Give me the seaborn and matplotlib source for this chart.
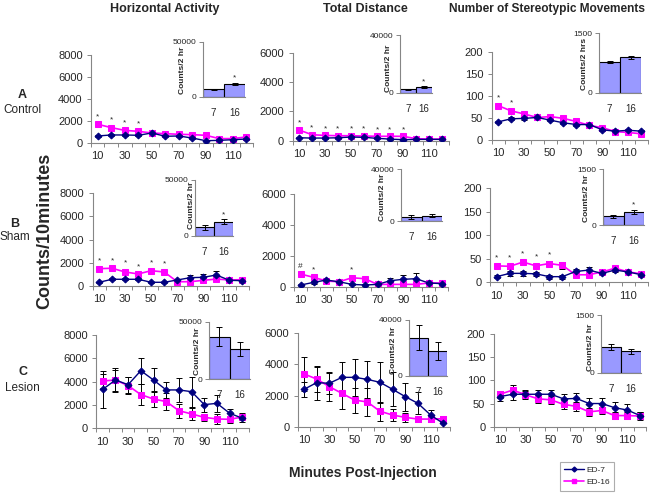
import numpy as np
import pandas as pd
import seaborn as sns
import matplotlib.pyplot as plt
from matplotlib.lines import Line2D

sns.set_theme(style="white")
plt.rcParams['font.family'] = ['Liberation Sans', 'DejaVu Sans']

W, H = 651, 493

minutes = [10, 20, 30, 40, 50, 60, 70, 80, 90, 100, 110, 120]
doses = ['7', '16']
col_titles = ['Horizontal Activity', 'Total Distance', 'Number of Stereotypic Movements']
row_letters = ['A', 'B', 'C']
row_names = ['Control', 'Sham', 'Lesion']
series_names = ['ED-7', 'ED-16']

# --- Horizontal activity ---
h_ctrl_7 = [640, 730, 730, 700, 910, 610, 640, 450, 210, 240, 300, 360]
h_ctrl_7_err = [80, 80, 80, 80, 80, 80, 80, 80, 60, 60, 60, 60]
h_ctrl_16 = [1700, 1400, 1150, 1060, 910, 850, 790, 760, 700, 400, 400, 550]
h_ctrl_16_err = [150, 120, 100, 100, 80, 80, 80, 80, 80, 60, 60, 60]
h_sham_7 = [320, 580, 580, 580, 320, 320, 520, 720, 750, 950, 490, 460]
h_sham_7_err = [60, 80, 80, 80, 60, 60, 100, 220, 260, 320, 100, 100]
h_sham_16 = [1500, 1530, 1210, 1040, 1320, 1210, 370, 370, 490, 600, 520, 550]
h_sham_16_err = [100, 100, 200, 100, 100, 120, 60, 60, 80, 80, 60, 60]
h_les_7 = [3340, 4140, 3740, 4940, 4140, 3290, 3290, 3140, 2030, 2140, 1290, 860]
h_les_7_err = [1600, 900, 700, 1100, 1000, 700, 1000, 1300, 600, 700, 350, 300]
h_les_16 = [4060, 4140, 3660, 2890, 2510, 2290, 1510, 1230, 940, 800, 770, 970]
h_les_16_err = [600, 1000, 700, 900, 700, 700, 600, 500, 300, 400, 300, 300]

# --- Total distance ---
d_ctrl_7 = [200, 180, 180, 200, 250, 230, 160, 110, 70, 90, 90, 90]
d_ctrl_7_err = [40, 40, 40, 40, 40, 40, 40, 30, 30, 30, 30, 30]
d_ctrl_16 = [730, 410, 360, 340, 340, 320, 300, 300, 300, 140, 110, 110]
d_ctrl_16_err = [80, 60, 50, 50, 50, 50, 50, 50, 50, 30, 30, 30]
d_sham_7 = [110, 280, 430, 320, 150, 110, 150, 390, 480, 520, 240, 200]
d_sham_7_err = [40, 80, 100, 60, 40, 40, 40, 150, 250, 400, 60, 60]
d_sham_16 = [820, 610, 370, 320, 580, 520, 150, 150, 150, 150, 240, 240]
d_sham_16_err = [80, 80, 60, 60, 80, 100, 40, 40, 40, 40, 40, 40]
d_les_7 = [2400, 2830, 2790, 3170, 3170, 3040, 2850, 2400, 1930, 1500, 750, 210]
d_les_7_err = [500, 1100, 700, 1000, 1200, 1200, 1300, 1100, 900, 700, 300, 200]
d_les_16 = [3390, 3060, 2570, 2140, 1710, 1590, 990, 750, 600, 490, 490, 510]
d_les_16_err = [1100, 800, 900, 1000, 800, 900, 600, 400, 300, 200, 200, 200]

# --- Stereotypic movements ---
s_ctrl_7 = [41, 48, 49, 51, 45, 39, 35, 35, 23, 20, 22, 20]
s_ctrl_7_err = [3, 3, 3, 3, 3, 3, 3, 3, 3, 3, 3, 3]
s_ctrl_16 = [78, 66, 59, 51, 53, 49, 42, 33, 28, 19, 17, 14]
s_ctrl_16_err = [4, 4, 4, 3, 3, 3, 3, 3, 3, 3, 3, 3]
s_sham_7 = [12, 19, 19, 18, 12, 12, 23, 26, 19, 26, 22, 16]
s_sham_7_err = [3, 6, 5, 4, 4, 4, 5, 7, 4, 4, 4, 4]
s_sham_16 = [35, 34, 43, 35, 40, 36, 16, 16, 22, 30, 22, 18]
s_sham_16_err = [4, 5, 5, 5, 5, 8, 4, 4, 4, 4, 4, 4]
s_les_7 = [65, 70, 70, 70, 70, 60, 61, 50, 50, 41, 36, 24]
s_les_7_err = [10, 12, 10, 10, 10, 10, 12, 12, 12, 12, 12, 8]
s_les_16 = [70, 79, 69, 60, 58, 48, 44, 32, 35, 24, 24, 23]
s_les_16_err = [8, 10, 8, 8, 8, 10, 10, 8, 8, 8, 8, 8]

# --- 2 hr totals (insets): [ED-7, ED-16] ---
tot_h_ctrl = [6700, 11500]
tot_h_ctrl_err = [700, 1200]
tot_d_ctrl = [2400, 4100]
tot_d_ctrl_err = [300, 500]
tot_s_ctrl = [775, 893]
tot_s_ctrl_err = [35, 45]
tot_h_sham = [7500, 12600]
tot_h_sham_err = [2500, 2000]
tot_d_sham = [3100, 4100]
tot_d_sham_err = [1500, 1200]
tot_s_sham = [232, 357]
tot_s_sham_err = [40, 50]
tot_h_les = [36900, 26200]
tot_h_les_err = [8500, 6500]
tot_d_les = [27400, 18100]
tot_d_les_err = [9000, 6500]
tot_s_les = [659, 555]
tot_s_les_err = [80, 70]

# significance marks above ED-16 points (index, symbol)
marks_h_ctrl = [(0, '*'), (1, '*'), (2, '*'), (3, '*')]
marks_d_ctrl = [(i, '*') for i in range(9)]
marks_s_ctrl = [(0, '*'), (1, '*')]
marks_h_sham = [(i, '*') for i in range(6)]
marks_d_sham = [(0, '#'), (1, '*'), (4, '*')]
marks_s_sham = [(i, '*') for i in range(5)]

panels = [
    [(h_ctrl_7, h_ctrl_7_err, h_ctrl_16, h_ctrl_16_err, marks_h_ctrl),
     (d_ctrl_7, d_ctrl_7_err, d_ctrl_16, d_ctrl_16_err, marks_d_ctrl),
     (s_ctrl_7, s_ctrl_7_err, s_ctrl_16, s_ctrl_16_err, marks_s_ctrl)],
    [(h_sham_7, h_sham_7_err, h_sham_16, h_sham_16_err, marks_h_sham),
     (d_sham_7, d_sham_7_err, d_sham_16, d_sham_16_err, marks_d_sham),
     (s_sham_7, s_sham_7_err, s_sham_16, s_sham_16_err, marks_s_sham)],
    [(h_les_7, h_les_7_err, h_les_16, h_les_16_err, []),
     (d_les_7, d_les_7_err, d_les_16, d_les_16_err, []),
     (s_les_7, s_les_7_err, s_les_16, s_les_16_err, [])],
]
insets = [
    [(tot_h_ctrl, tot_h_ctrl_err, True), (tot_d_ctrl, tot_d_ctrl_err, True), (tot_s_ctrl, tot_s_ctrl_err, False)],
    [(tot_h_sham, tot_h_sham_err, True), (tot_d_sham, tot_d_sham_err, False), (tot_s_sham, tot_s_sham_err, True)],
    [(tot_h_les, tot_h_les_err, False), (tot_d_les, tot_d_les_err, False), (tot_s_les, tot_s_les_err, False)],
]
inset_ylabels = [['Counts/2 hr', 'Counts/2 hr', 'Counts/2 hrs'],
                 ['Counts/2 hr'] * 3, ['Counts/2 hr'] * 3]

# ---- layout (pixels: left, right, top, bottom) ----
main_px = [
    [(91, 253, 55, 143), (292.5, 448.5, 52.7, 140.7), (491.5, 648, 51.7, 140)],
    [(92.5, 249, 193.3, 286), (294.3, 448, 194.3, 286.7), (490, 648, 188.3, 282.3)],
    [(96.4, 248.7, 335, 428.3), (297.7, 449.6, 333.3, 426.7), (493.6, 646.4, 334, 426.7)],
]
inset_px = [
    [(203, 245, 41.7, 96.7), (400, 432, 35, 92.7), (599, 641, 33.3, 92.7)],
    [(195, 233, 180, 235.7), (401, 442, 169, 221), (603, 644, 169, 225)],
    [(209, 250, 321.7, 379), (409, 447, 320, 376), (601, 641, 315, 372.7)],
]
inset_ylabel_px = [
    [(183, 70), (388, 68), (584, 64)],
    [(191.5, 205), (382, 197), (587, 198)],
    [(197.5, 351), (393, 350), (590, 347)],
]
ymax_main = [8000, 6000, 200]
ystep_main = [2000, 2000, 50]
ymax_inset = [50000, 40000, 1500]

BLUE = '#000080'
PINK = '#FF00FF'
BAR = '#9999FF'
AX = '#868686'


def rect(l, r, t, b):
    return [l / W, 1 - b / H, (r - l) / W, (b - t) / H]


fig = plt.figure(figsize=(W / 100, H / 100), dpi=100)

for r in range(3):
    for c in range(3):
        y7, e7, y16, e16, marks = panels[r][c]
        ax = fig.add_axes(rect(*main_px[r][c]))
        df = pd.DataFrame({'min': minutes * 2, 'val': y7 + y16,
                           'grp': [series_names[0]] * 12 + [series_names[1]] * 12})
        ax.errorbar(minutes, y7, yerr=e7, fmt='none', ecolor='black', elinewidth=0.7, capsize=2, capthick=0.7, zorder=1)
        ax.errorbar(minutes, y16, yerr=e16, fmt='none', ecolor='black', elinewidth=0.7, capsize=2, capthick=0.7, zorder=1)
        sns.lineplot(data=df[df.grp == 'ED-7'], x='min', y='val', color=BLUE, marker='D', markersize=3.5,
                     markeredgecolor=BLUE, linewidth=1.0, ax=ax, zorder=3)
        sns.lineplot(data=df[df.grp == 'ED-16'], x='min', y='val', color=PINK, marker='s', markersize=5,
                     markeredgecolor=PINK, linewidth=1.2, ax=ax, zorder=2)
        top = ymax_main[c]
        for i, sym in marks:
            ax.text(minutes[i], y16[i] + e16[i] + top * 0.03, sym, ha='center', va='bottom', fontsize=6)
        ax.set_xlim(5, 125)
        ax.set_ylim(0, top)
        ax.set_yticks(np.arange(0, top + 1, ystep_main[c]))
        ax.set_xticks([10, 30, 50, 70, 90, 110])
        ax.set_xticks(np.arange(5, 126, 10), minor=True)
        ax.tick_params(axis='x', which='major', length=0, labelsize=8, pad=6)
        ax.tick_params(axis='x', which='minor', length=3, color=AX, width=0.7, direction='out', bottom=True)
        ax.tick_params(axis='y', length=3, color=AX, width=0.7, direction='out', left=True, labelsize=8, pad=3)
        ax.set_xlabel('')
        ax.set_ylabel('')
        for s in ['top', 'right']:
            ax.spines[s].set_visible(False)
        for s in ['left', 'bottom']:
            ax.spines[s].set_color(AX)
            ax.spines[s].set_linewidth(0.8)
        ax.patch.set_alpha(0)

        # inset: 2 hr totals
        vals, errs, star = insets[r][c]
        ia = fig.add_axes(rect(*inset_px[r][c]))
        sns.barplot(x=doses, y=vals, color=BAR, saturation=1, width=1.0, edgecolor='black', linewidth=0.8, ax=ia)
        ia.errorbar([0, 1], vals, yerr=errs, fmt='none', ecolor='black', elinewidth=0.7, capsize=2, capthick=0.7)
        if star:
            ia.text(1, vals[1] + errs[1] + ymax_inset[c] * 0.02, '*', ha='center', va='bottom', fontsize=6)
        ia.set_xlim(-0.5, 1.5)
        ia.set_ylim(0, ymax_inset[c])
        ia.set_yticks([0, ymax_inset[c]])
        ia.tick_params(axis='y', length=3, color=AX, width=0.7, direction='out', left=True, labelsize=6, pad=2)
        ia.tick_params(axis='x', length=0, labelsize=7, pad=8)
        for s in ['top', 'right']:
            ia.spines[s].set_visible(False)
        for s in ['left', 'bottom']:
            ia.spines[s].set_color(AX)
            ia.spines[s].set_linewidth(0.8)
        ia.set_ylabel('')
        ia.patch.set_alpha(0)
        lx, ly = inset_ylabel_px[r][c]
        fig.text(lx / W, 1 - ly / H, inset_ylabels[r][c], rotation=90, ha='center', va='center',
                 fontsize=6, fontweight='bold')

# column titles
for c, (title, x) in enumerate(zip(col_titles, [165, 365, 547])):
    fig.text(x / W, 1 - 9 / H, title, ha='center', va='center',
             fontsize=8.6 if c == 2 else 9, fontweight='bold')

# row labels
row_px = [(22.5, 95, 110), (15, 224, 237), (22.5, 372, 388)]
for letter, name, (x, y1, y2) in zip(row_letters, row_names, row_px):
    fig.text(x / W, 1 - y1 / H, letter, ha='center', va='center', fontsize=9, fontweight='bold')
    fig.text(x / W, 1 - y2 / H, name, ha='center', va='center', fontsize=8.5)

fig.text(45 / W, 1 - 231 / H, 'Counts/10minutes', rotation=90, ha='center', va='center',
         fontsize=13, fontweight='bold')
fig.text(363 / W, 1 - 473 / H, 'Minutes Post-Injection', ha='center', va='center',
         fontsize=10, fontweight='bold')

handles = [Line2D([], [], color=BLUE, marker='D', markersize=2.5, linewidth=1),
           Line2D([], [], color=PINK, marker='s', markersize=3.5, linewidth=1.2)]
leg = fig.legend(handles, series_names, loc='center', bbox_to_anchor=(587 / W, 1 - 476 / H),
                 fontsize=6, frameon=True, fancybox=False, edgecolor='#999999', handlelength=2.4,
                 borderpad=0.5, labelspacing=0.6, handletextpad=0.2, borderaxespad=0)
leg.get_frame().set_linewidth(0.8)

fig.savefig('out.png', dpi=100)
